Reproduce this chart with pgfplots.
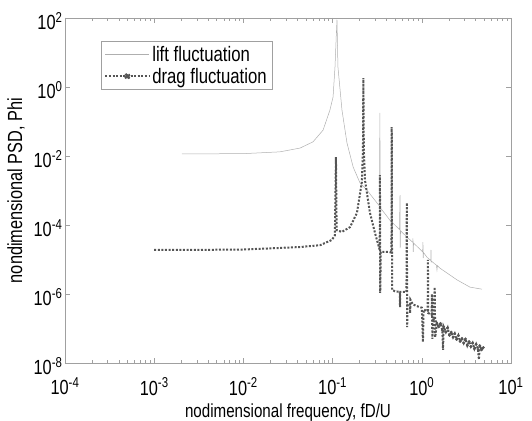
\documentclass[border=0pt]{standalone}
\usepackage{fontspec}
\setmainfont{Liberation Sans}[FakeStretch=0.8]
\usepackage{pgfplots}
\pgfplotsset{compat=1.18}
\definecolor{liftgray}{RGB}{175,175,175}
\definecolor{draggray}{RGB}{85,85,85}
\definecolor{framegray}{RGB}{160,160,160}

\begin{document}
\begin{tikzpicture}
\begin{axis}[
    name=ax,
    scale only axis,
    width=446bp, height=345bp,
    xmode=log, ymode=log,
    xmin=1e-4, xmax=10,
    ymin=1e-8, ymax=100,
    xtick={1e-4,1e-3,1e-2,1e-1,1,10},
    ytick={1e-8,1e-6,1e-4,1e-2,1,100},
    yminorticks=false,
    axis line style={framegray},
    tick style={framegray},
    tick align=inside,
    major tick length=5bp,
    minor tick length=3bp,
    /pgf/number format/assume math mode=true,
    log number format basis/.code 2 args={#1\textsuperscript{\pgfmathprintnumber{#2}}},
    ticklabel style={font=\fontsize{20.5}{20.5}\selectfont},
    x tick label style={yshift=-11bp},
    y tick label style={yshift=-3bp, xshift=1bp},
    xlabel={nodimensional frequency, fD/U},
    ylabel={nondimensional PSD, Phi},
    label style={font=\fontsize{19}{19}\selectfont},
    xlabel style={at={(axis description cs:0.5,0)}, anchor=north, yshift=-37bp},
    ylabel style={yshift=2bp, font=\fontsize{20.5}{20.5}\selectfont},
    legend style={at={(0.081,0.933)}, anchor=north west, draw=framegray,
        font=\fontsize{21}{21}\selectfont, inner sep=3bp, row sep=1bp},
    legend cell align=left,
]
% lift fluctuation
\addplot[liftgray, line width=0.5bp,
    legend image code/.code={\draw[liftgray, line width=0.5bp] (0bp,0bp) -- (44bp,0bp);}]
coordinates {
(0.00204,0.0115) (0.01,0.0117) (0.0257,0.0132) (0.0432,0.017) (0.0603,0.0257)
(0.0782,0.0562) (0.0933,0.214) (0.1012,0.513) (0.1064,3.8) (0.110,31.6)
(0.112,89) (0.1135,15.8) (0.1148,3.8) (0.1274,0.214) (0.1449,0.024)
(0.17,0.0048) (0.2028,1.66e-3) (0.2432,1.02e-3) (0.335,3.55e-4) (0.3388,0.178)
(0.3428,3.16e-4) (0.4395,1.38e-4) (0.562,7.4e-5) (0.570,7.4e-4) (0.573,2.14e-5)
(0.578,6.8e-5) (0.682,4.47e-5) (0.791,3.16e-5) (0.796,4.07e-5) (0.802,1.66e-5)
(0.809,3.0e-5) (1.023,1.66e-5) (1.03,3.2e-5) (1.038,1.1e-5) (1.047,1.58e-5)
(1.143,1.17e-5) (1.259,9.3e-6) (1.268,1.9e-5) (1.276,8.5e-6) (1.288,8.9e-6)
(1.462,6.8e-6) (1.479,5.0e-6) (1.496,6.6e-6) (1.6,5.6e-6) (2.48,2.57e-6)
(3.47,1.58e-6) (4.73,1.38e-6)
};
\addlegendentry{lift fluctuation}
% drag fluctuation
\addplot[draggray, line width=2bp, dash pattern=on 2bp off 1.6bp,
    legend image code/.code={\draw[draggray, line width=2bp, dash pattern=on 2bp off 1.6bp] (0bp,0bp) -- (44bp,0bp);
        \fill[draggray] (22bp,0bp) circle (2.2bp);}]
coordinates {
(0.001,1.9e-5) (0.00316,1.9e-5) (0.01,1.95e-5) (0.02,2.1e-5) (0.0432,2.3e-5)
(0.0724,2.6e-5) (0.0984,3.7e-5) (0.106,5.0e-5) (0.109,9.3e-3) (0.111,7.1e-5)
(0.127,6.3e-5) (0.157,8.7e-5) (0.1875,2.24e-4) (0.213,1.78e-3) (0.219,0.0158)
(0.2213,1.82) (0.2239,0.0158) (0.2307,2.0e-3) (0.2624,2.24e-4) (0.2985,5.9e-5)
(0.3373,1.9e-5) (0.3396,2.8e-3) (0.342,1.07e-6) (0.3467,1.66e-5) (0.4266,1.66e-5)
(0.457,1.58e-5) (0.4603,0.069) (0.4645,1.32e-6) (0.501,1.2e-6) (0.566,1.15e-6)
(0.570,4.2e-7) (0.574,1.15e-6) (0.673,1.15e-6) (0.679,4.4e-4) (0.686,1.1e-7)
(0.692,5.0e-7) (0.736,5.0e-7) (0.741,2.8e-7) (0.746,6.8e-7) (0.794,5.0e-7)
(0.871,4.5e-7) (1.0,4.0e-7) (1.03,4.1e-8) (1.047,3.5e-7) (1.164,3.2e-7)
(1.172,9.8e-6) (1.18,2.8e-7) (1.288,2.5e-7) (1.30,1.0e-6) (1.312,5.0e-8)
(1.349,1.78e-7) (1.396,1.58e-6) (1.413,5.6e-8) (1.479,1.41e-7) (1.549,1.12e-7)
(1.622,1.41e-7) (1.698,8.9e-8) (1.73,2.4e-8) (1.758,1.12e-7) (1.862,7.9e-8)
(1.95,1.05e-7) (2.04,6.3e-8) (2.14,7.9e-8) (2.24,5.6e-8) (2.34,7.1e-8)
(2.455,4.8e-8) (2.57,6.3e-8) (2.69,4.2e-8) (2.82,5.2e-8) (2.95,3.8e-8)
(3.09,5.0e-8) (3.24,3.2e-8) (3.39,4.2e-8) (3.55,3.0e-8) (3.72,3.8e-8)
(3.89,2.6e-8) (4.07,3.5e-8) (4.27,2.5e-8) (4.365,1.26e-8) (4.47,3.2e-8)
(4.68,2.4e-8) (4.9,2.8e-8)
};
\addlegendentry{drag fluctuation}
% dense high-frequency markers of the drag series
\addplot[only marks, mark=*, mark size=1.2bp, draggray, forget plot]
coordinates {
(1.349,1.78e-7) (1.479,1.41e-7) (1.549,1.12e-7) (1.622,1.41e-7) (1.698,8.9e-8)
(1.758,1.12e-7) (1.862,7.9e-8) (1.95,1.05e-7) (2.04,6.3e-8) (2.14,7.9e-8)
(2.24,5.6e-8) (2.34,7.1e-8) (2.455,4.8e-8) (2.57,6.3e-8) (2.69,4.2e-8)
(2.82,5.2e-8) (2.95,3.8e-8) (3.09,5.0e-8) (3.24,3.2e-8) (3.39,4.2e-8)
(3.55,3.0e-8) (3.72,3.8e-8) (3.89,2.6e-8) (4.07,3.5e-8) (4.27,2.5e-8)
(4.47,3.2e-8) (4.68,2.4e-8) (4.9,2.8e-8)
};
\end{axis}
\pgfresetboundingbox
\path ([shift={(-65bp,-58bp)}]ax.south west) rectangle ([shift={(21bp,18bp)}]ax.north east);
\end{tikzpicture}
\end{document}
